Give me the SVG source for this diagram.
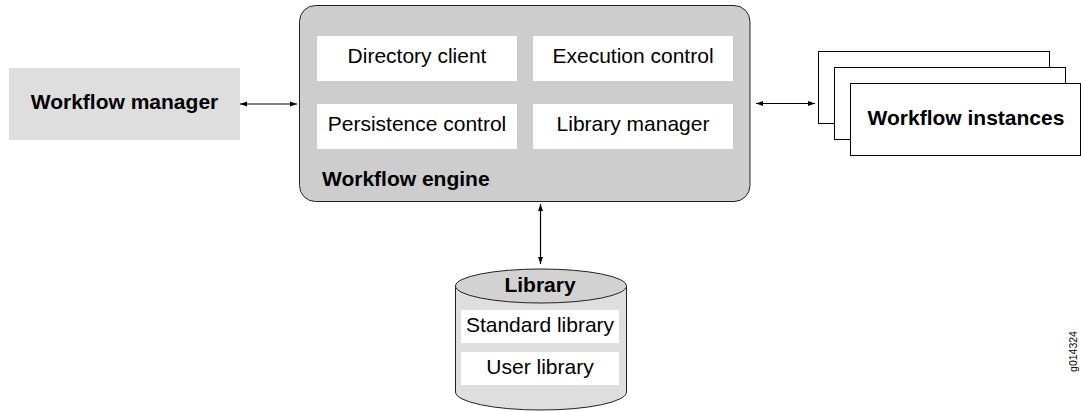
<svg xmlns="http://www.w3.org/2000/svg" width="1081" height="411" viewBox="0 0 1081 411">
<defs>
<marker id="ah" viewBox="0 0 10 10" refX="10" refY="5" markerWidth="8" markerHeight="7" markerUnits="userSpaceOnUse" orient="auto-start-reverse">
<path d="M0,1.5 L10,5 L0,8.5 z" fill="#000"/>
</marker>
<style>
text{font-family:"Liberation Sans",Arial,sans-serif;fill:#000}
.b{font-weight:bold}
.t{font-size:21px}
.inner{fill:#fff;stroke:none}
.stack{fill:#fff;stroke:#000;stroke-width:1}
.conn{stroke:#000;stroke-width:1.2;fill:none;marker-start:url(#ah);marker-end:url(#ah)}
</style>
</defs>
<rect width="1081" height="411" fill="#fff"/>
<g id="workflow-manager">
<rect x="9" y="68" width="231" height="72" fill="#dedede"/>
<text class="b t" x="124.5" y="108.5" text-anchor="middle">Workflow manager</text>
</g>
<g id="workflow-engine">
<rect x="299.5" y="5.5" width="450.5" height="196" rx="16" ry="16" fill="#cdcdcd" stroke="#222" stroke-width="1"/>
<rect class="inner" x="317" y="36" width="200" height="45"/>
<text class="t" x="417" y="63" text-anchor="middle">Directory client</text>
<rect class="inner" x="533" y="36" width="200" height="45"/>
<text class="t" x="633" y="63" text-anchor="middle">Execution control</text>
<rect class="inner" x="317" y="104" width="200" height="45"/>
<text class="t" x="417" y="131" text-anchor="middle">Persistence control</text>
<rect class="inner" x="533" y="104" width="200" height="45"/>
<text class="t" x="633" y="131" text-anchor="middle">Library manager</text>
<text class="b t" x="322" y="186">Workflow engine</text>
</g>
<g id="workflow-instances">
<rect class="stack" x="818.5" y="51.5" width="231" height="72"/>
<rect class="stack" x="834.5" y="67.5" width="231" height="72"/>
<rect class="stack" x="850.5" y="83.5" width="230" height="72"/>
<text class="b t" x="966" y="125" text-anchor="middle">Workflow instances</text>
</g>
<g id="library">
<path d="M455.5,286 L455.5,392 A85.5,18 0 0 0 626.5,392 L626.5,286" fill="#dedede" stroke="#222" stroke-width="1"/>
<ellipse cx="541" cy="286" rx="85.5" ry="17" fill="#d2d2d2" stroke="#222" stroke-width="1"/>
<text class="b t" x="540" y="292" text-anchor="middle">Library</text>
<rect class="inner" x="461" y="310" width="158" height="33"/>
<text class="t" x="540" y="332" text-anchor="middle">Standard library</text>
<rect class="inner" x="461" y="352" width="158" height="33"/>
<text class="t" x="540" y="374" text-anchor="middle">User library</text>
</g>
<g id="connectors">
<line class="conn" x1="240" y1="104" x2="297" y2="104"/>
<line class="conn" x1="756" y1="103.5" x2="815" y2="103.5"/>
<line class="conn" x1="540.5" y1="204" x2="540.5" y2="264"/>
</g>
<text x="1077" y="351.5" font-size="10.5" text-anchor="middle" transform="rotate(-90 1077 351.5)">g014324</text>
</svg>
